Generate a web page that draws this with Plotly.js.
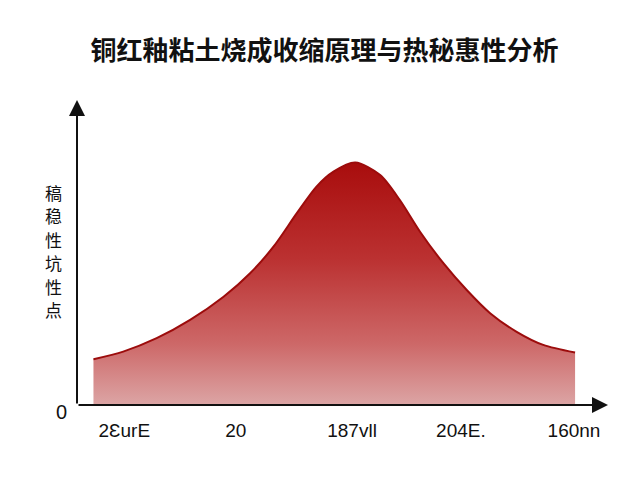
<!DOCTYPE html>
<html>
<head>
<meta charset="utf-8">
<script src="https://cdn.plot.ly/plotly-3.0.1.min.js"></script>
<style>
  html, body { margin: 0; padding: 0; background: #fff; }
  #chart { width: 640px; height: 480px; }
</style>
</head>
<body>
<div id="chart"></div>
<script>
'use strict';

// values (x: 0..100 along the axis, y: 0..100 up to the arrow)
const curveX = [3.1, 8.7, 15.0, 21.3, 27.6, 32.6, 37.0, 41.4, 45.1, 48.3, 52.4, 57.1, 60.8, 64.6, 69.0, 73.4, 77.8, 82.8, 87.8, 93.8];
const curveY = [15.0, 17.5, 21.9, 27.9, 35.5, 43.2, 51.9, 62.9, 71.6, 76.5, 79.5, 75.4, 67.2, 56.8, 46.5, 37.7, 30.1, 24.0, 19.7, 17.2];

const tickPos = [8.9, 29.9, 51.8, 72.3, 93.6];
const tickText = ['2ƐurE', '20', '187vll', '204E.', '160nn'];

const titleText = '铜红釉粘土烧成收缩原理与热秘惠性分析';
const yLabelChars = ['稿', '稳', '性', '坑', '性', '点'];

const trace = {
	x: curveX,
	y: curveY,
	type: 'scatter',
	mode: 'lines',
	line: { shape: 'spline', smoothing: 0.8, color: '#9c0c0c', width: 2 },
	fill: 'tozeroy',
	fillgradient: {
		type: 'vertical',
		start: 0,
		stop: 80,
		colorscale: [
			[0, '#dca5a5'],
			[0.25, '#cd6868'],
			[0.6, '#bb3131'],
			[1, '#a80c0c']
		]
	},
	hoverinfo: 'skip'
};

const axisFont = { family: 'Liberation Sans, Arial, sans-serif', size: 19, color: '#111' };

const annotations = [
	// x axis arrow
	{
		x: 100, y: 0, xref: 'x', yref: 'y',
		ax: 0, ay: 0, axref: 'x', ayref: 'y',
		text: '', showarrow: true,
		arrowhead: 2, arrowsize: 1.6, arrowwidth: 2, arrowcolor: '#111'
	},
	// y axis arrow
	{
		x: 0, y: 100, xref: 'x', yref: 'y',
		ax: 0, ay: 0, axref: 'x', ayref: 'y',
		text: '', showarrow: true,
		arrowhead: 2, arrowsize: 1.6, arrowwidth: 2, arrowcolor: '#111'
	}
];

// vertical y axis label, one character per line
yLabelChars.forEach(function(ch, i) {
	annotations.push({
		x: -0.045, y: (405 - 192 - i * 23.5) / 305,
		xref: 'paper', yref: 'paper',
		xanchor: 'center', yanchor: 'middle',
		text: ch,
		showarrow: false,
		borderpad: 0,
		font: { family: 'Noto Sans CJK SC, sans-serif', size: 17, color: '#111' }
	});
});

const layout = {
	width: 640,
	height: 480,
	margin: { l: 77, r: 32, t: 100, b: 75 },
	paper_bgcolor: '#fff',
	plot_bgcolor: '#fff',
	showlegend: false,
	title: {
		text: titleText,
		x: 0.507,
		xref: 'container',
		y: 0.893,
		yanchor: 'middle',
		font: { family: 'Noto Sans CJK SC, sans-serif', size: 26, color: '#111', weight: 'bold' }
	},
	xaxis: {
		range: [0, 100],
		showgrid: false,
		zeroline: false,
		showline: false,
		tickmode: 'array',
		tickvals: tickPos,
		ticktext: tickText,
		ticks: '',
		ticklabelstandoff: 12,
		tickfont: axisFont,
		fixedrange: true
	},
	yaxis: {
		range: [0, 100],
		showgrid: false,
		zeroline: false,
		showline: false,
		tickmode: 'array',
		tickvals: [0],
		ticktext: ['0'],
		ticks: '',
		ticklabelstandoff: 9,
		ticklabelshift: 7,
		tickfont: { family: 'Liberation Sans, Arial, sans-serif', size: 20, color: '#111' },
		fixedrange: true
	},
	annotations: annotations
};

Plotly.newPlot('chart', [trace], layout, { displayModeBar: false, staticPlot: true });
</script>
</body>
</html>
